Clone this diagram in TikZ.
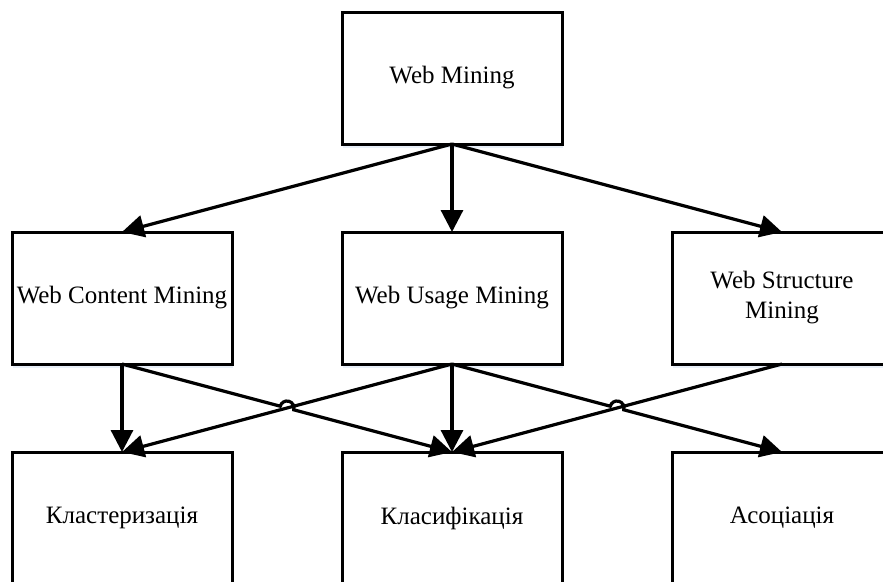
\documentclass[tikz,border=0pt]{standalone}
\usepackage{fontspec}
\setmainfont{Liberation Serif}
\usetikzlibrary{arrows.meta,calc,shadows}
\definecolor{glow}{RGB}{232,239,248}
\begin{document}
\begin{tikzpicture}[x=1pt,y=1pt,
  box/.style={draw=black, line width=3pt, fill=white, minimum width=220pt, minimum height=132pt,
    inner sep=0pt, outer sep=0pt, align=center, font=\fontsize{25}{30}\selectfont,
    drop shadow={shadow xshift=1pt, shadow yshift=-4pt, fill=glow, opacity=1}},
  conn/.style={line width=3.2pt, -{Triangle[length=22pt,width=22pt]}}]
\useasboundingbox (0,0) rectangle (883,-581);
\clip (0,0) rectangle (883,-581);
\node[box] (wm)  at (452,-78)  {Web Mining};
\node[box] (wcm) at (122,-298) {Web Content Mining};
\node[box] (wum) at (452,-298) {Web Usage Mining};
\node[box] (wsm) at (782,-298) {Web Structure\\Mining};
\node[box] (kl)  at (122,-518) {Кластеризація};
\node[box] (klf) at (452,-518) {Класифікація};
\node[box] (as)  at (782,-518) {Асоціація};
\draw[conn] (wm.south) -- (wcm.north);
\draw[conn] (wm.south) -- (wum.north);
\draw[conn] (wm.south) -- (wsm.north);
\draw[conn] (wcm.south) -- (kl.north);
\draw[conn] (wum.south) -- (kl.north);
\draw[conn] (wum.south) -- (klf.north);
\draw[conn] (wsm.south) -- (klf.north);
\coordinate (x1) at ($(wcm.south)!0.5!(klf.north)$);
\coordinate (x2) at ($(wum.south)!0.5!(as.north)$);
\draw[conn] (wcm.south) -- ($(x1)!7pt!(wcm.south)$) arc[start angle=165.07, end angle=-14.93, radius=7pt] -- (klf.north);
\draw[conn] (wum.south) -- ($(x2)!7pt!(wum.south)$) arc[start angle=165.07, end angle=-14.93, radius=7pt] -- (as.north);
\end{tikzpicture}
\end{document}
